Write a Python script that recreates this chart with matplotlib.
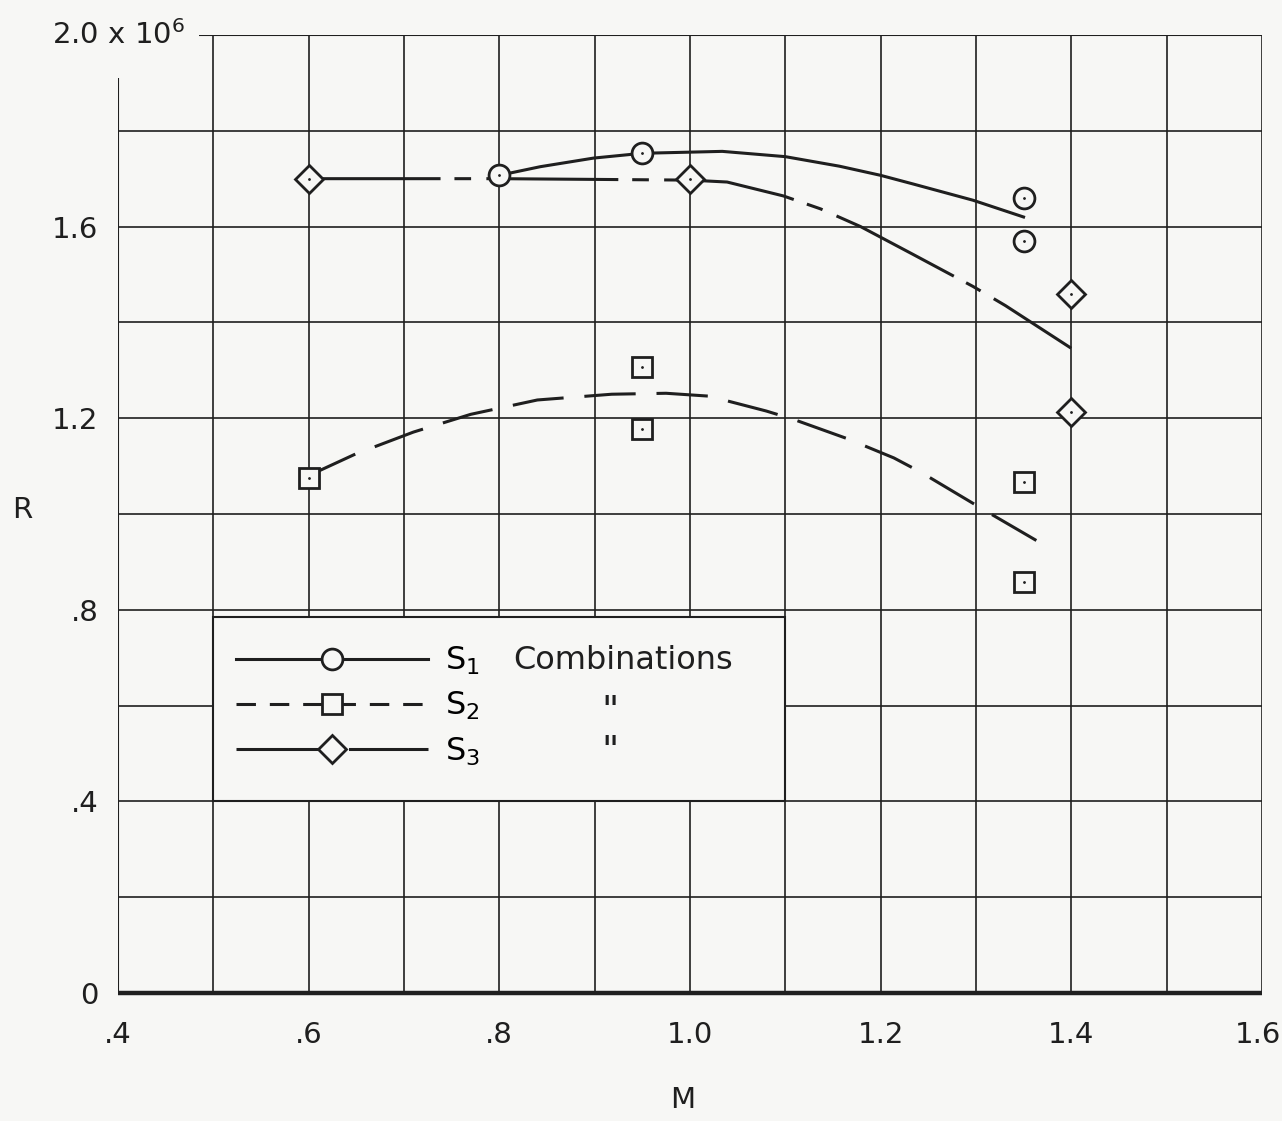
import numpy as np
import matplotlib.pyplot as plt
import matplotlib.transforms as mtransforms
from matplotlib.lines import Line2D
from matplotlib.patches import Rectangle

plt.rcParams['font.family'] = ['DejaVu Sans']
plt.rcParams['lines.scale_dashes'] = False

# measured points (Mach number M, Reynolds number R in millions)
s1_m = [0.80, 0.95, 1.35, 1.35]
s1_r = [1.707, 1.753, 1.66, 1.57]
s2_m = [0.60, 0.95, 0.95, 1.35, 1.35]
s2_r = [1.075, 1.306, 1.177, 1.067, 0.858]
s3_m = [0.60, 1.00, 1.40, 1.40]
s3_r = [1.70, 1.70, 1.46, 1.2125]

# faired curves
s1_fair_m = [0.80, 0.843, 0.899, 0.95, 1.034, 1.10, 1.157, 1.20, 1.234, 1.297, 1.35]
s1_fair_r = [1.707, 1.725, 1.743, 1.753, 1.757, 1.746, 1.726, 1.707, 1.689, 1.655, 1.62]
s2_fair_m = [0.60, 0.649, 0.71, 0.77, 0.84, 0.918, 0.975, 1.02, 1.08, 1.108, 1.164,
             1.214, 1.242, 1.314, 1.364]
s2_fair_r = [1.08, 1.125, 1.171, 1.208, 1.238, 1.25, 1.252, 1.246, 1.215, 1.198, 1.158,
             1.117, 1.0875, 1.002, 0.944]
s3_fair_m = [0.60, 0.80, 1.00, 1.039, 1.098, 1.137, 1.179, 1.234, 1.297, 1.331, 1.40]
s3_fair_r = [1.70, 1.70, 1.697, 1.693, 1.664, 1.637, 1.60, 1.542, 1.475, 1.435, 1.346]

x_ticks = [0.4, 0.6, 0.8, 1.0, 1.2, 1.4, 1.6]
x_labels = ['.4', '.6', '.8', '1.0', '1.2', '1.4', '1.6']
y_ticks = [0.0, 0.4, 0.8, 1.2, 1.6]
y_labels = ['0', '.4', '.8', '1.2', '1.6']
legend_labels = ['S$_1$', 'S$_2$', 'S$_3$']

bg = '#f7f7f5'
ink = '#1f1f1f'
fs = 21
fs_key = 23

s2_dash = (0, (37, 15))
s3_dash = (0, (95, 10, 12, 11))

fig = plt.figure(figsize=(12.82, 11.21), dpi=100)
fig.patch.set_facecolor(bg)
ax = fig.add_axes([0.092, 0.1142, 0.8923, 0.8546])
ax.set_facecolor(bg)
ax.set_xlim(0.4, 1.6)
ax.set_ylim(0, 2.0)
for s in ax.spines.values():
    s.set_visible(False)

# grid paper
gx = np.round(np.arange(0.5, 1.61, 0.1), 2)
gy = np.round(np.arange(0.2, 1.81, 0.2), 2)
ax.vlines(gx, 0, 2.0, color=ink, lw=1.2, zorder=1)
ax.vlines(0.4, 0, 1.91, color=ink, lw=1.5, zorder=1)
ax.hlines(gy, 0.4, 1.6, color=ink, lw=1.2, zorder=1)
ax.hlines(2.0, 0.485, 1.6, color=ink, lw=1.5, zorder=1)
ax.hlines(0.0, 0.4, 1.6, color=ink, lw=3.2, zorder=2, clip_on=False)

ax.set_xticks(x_ticks, x_labels)
ax.set_yticks(y_ticks, y_labels)
ax.tick_params(length=0, labelsize=fs, colors=ink)
ax.tick_params(axis='x', pad=20)
ax.tick_params(axis='y', pad=14)
# last x label sits against the page edge in the original
last = ax.get_xticklabels()[-1]
last.set_horizontalalignment('right')
last.set_transform(last.get_transform() + mtransforms.ScaledTranslation(0.19, 0, fig.dpi_scale_trans))

ax.text(0.47, 2.0, '2.0 x 10$^6$', fontsize=fs, color=ink, ha='right', va='center')
ax.text(-0.084, 0.504, 'R', fontsize=fs, color=ink, ha='center', va='center',
        transform=ax.transAxes)
ax.text(0.494, -0.112, 'M', fontsize=fs, color=ink, ha='center', va='center',
        transform=ax.transAxes)

# curves
ax.plot(s1_fair_m, s1_fair_r, color=ink, lw=2.2, ls='-', zorder=3)
ax.plot(s2_fair_m, s2_fair_r, color=ink, lw=2.2, ls=s2_dash, zorder=3)
ax.plot(s3_fair_m, s3_fair_r, color=ink, lw=2.2, ls=s3_dash, zorder=3)

mk = dict(ls='none', mfc=bg, mec=ink, mew=2.0, zorder=4)
ax.plot(s1_m, s1_r, marker='o', ms=15, **mk)
ax.plot(s2_m, s2_r, marker='s', ms=14, **mk)
ax.plot(s3_m, s3_r, marker='D', ms=14, **mk)
ax.plot(s1_m + s2_m + s3_m, s1_r + s2_r + s3_r, ls='none', marker='.', ms=2,
        color=ink, zorder=5)

# key
ax.add_patch(Rectangle((0.5, 0.4), 0.6, 0.385, facecolor=bg, edgecolor=ink,
                       lw=1.5, zorder=3))
handles = [
    Line2D([], [], color=ink, lw=2.2, ls='-', marker='o', ms=15, mfc=bg, mec=ink, mew=2),
    Line2D([], [], color=ink, lw=2.2, ls=(0, (14, 10)), marker='s', ms=14, mfc=bg, mec=ink, mew=2),
    Line2D([], [], color=ink, lw=2.2, ls=(0, (60, 8, 5, 8)), marker='D', ms=14, mfc=bg, mec=ink, mew=2),
]
leg = ax.legend(handles, legend_labels, loc='upper left', bbox_to_anchor=(0.524, 0.727),
                bbox_transform=ax.transData, frameon=False, handlelength=6.0,
                handletextpad=0.55, labelspacing=0.4, borderpad=0, borderaxespad=0,
                fontsize=fs_key, numpoints=1)
leg.set_zorder(6)
ax.text(0.815, 0.695, 'Combinations', fontsize=fs_key, color=ink, va='center', zorder=6)
ax.text(0.916, 0.587, '"', fontsize=27, color=ink, ha='center', va='center', zorder=6)
ax.text(0.916, 0.503, '"', fontsize=27, color=ink, ha='center', va='center', zorder=6)

fig.savefig('out.png', dpi=100, facecolor=bg)
